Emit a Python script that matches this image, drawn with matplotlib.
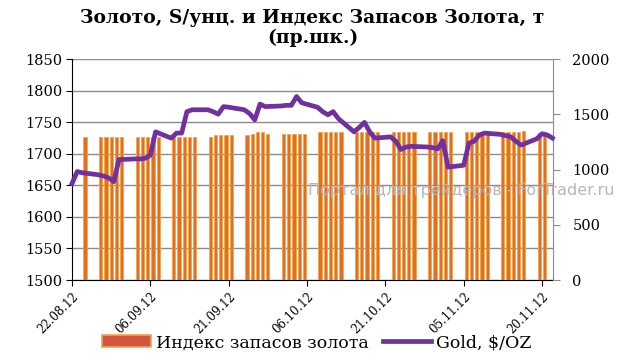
import matplotlib
matplotlib.use("Agg")
import matplotlib.pyplot as plt
import matplotlib.dates as mdates
from matplotlib.patches import Patch
from matplotlib.lines import Line2D
import pandas as pd

plt.rcParams['font.family'] = ['DejaVu Serif']

# gold price, $/oz (left axis)
gold_dates = [
    '2012-08-22', '2012-08-23', '2012-08-24', '2012-08-27', '2012-08-28', '2012-08-29',
    '2012-08-30', '2012-08-31', '2012-09-03', '2012-09-04', '2012-09-05', '2012-09-06',
    '2012-09-07', '2012-09-10', '2012-09-11', '2012-09-12', '2012-09-13', '2012-09-14',
    '2012-09-17', '2012-09-18', '2012-09-19', '2012-09-20', '2012-09-21', '2012-09-24',
    '2012-09-25', '2012-09-26', '2012-09-27', '2012-09-28', '2012-10-01', '2012-10-02',
    '2012-10-03', '2012-10-04', '2012-10-05', '2012-10-08', '2012-10-09', '2012-10-10',
    '2012-10-11', '2012-10-12', '2012-10-15', '2012-10-16', '2012-10-17', '2012-10-18',
    '2012-10-19', '2012-10-22', '2012-10-23', '2012-10-24', '2012-10-25', '2012-10-26',
    '2012-10-29', '2012-10-30', '2012-10-31', '2012-11-01', '2012-11-02', '2012-11-05',
    '2012-11-06', '2012-11-07', '2012-11-08', '2012-11-09', '2012-11-12', '2012-11-13',
    '2012-11-14', '2012-11-15', '2012-11-16', '2012-11-19', '2012-11-20', '2012-11-21',
    '2012-11-22']
gold_price = [
    1653, 1672, 1670, 1667, 1665, 1662,
    1656, 1691, 1692, 1692, 1693, 1698,
    1735, 1725, 1733, 1733, 1767, 1770,
    1770, 1767, 1763, 1775, 1774, 1770,
    1764, 1754, 1779, 1775, 1776, 1777,
    1777, 1791, 1781, 1774, 1767, 1762,
    1767, 1756, 1735, 1742, 1750, 1735,
    1725, 1727, 1720, 1707, 1711, 1712,
    1711, 1710, 1708, 1721, 1679, 1682,
    1717, 1720, 1730, 1733, 1731, 1729,
    1727, 1720, 1714, 1724, 1732, 1730,
    1725]

# gold stocks index, t (right axis)
stock_dates = [
    '2012-08-24', '2012-08-27', '2012-08-28', '2012-08-29', '2012-08-30', '2012-08-31',
    '2012-09-03', '2012-09-04', '2012-09-05', '2012-09-06', '2012-09-07', '2012-09-10',
    '2012-09-11', '2012-09-12', '2012-09-13', '2012-09-14', '2012-09-17', '2012-09-18',
    '2012-09-19', '2012-09-20', '2012-09-21', '2012-09-24', '2012-09-25', '2012-09-26',
    '2012-09-27', '2012-09-28', '2012-10-01', '2012-10-02', '2012-10-03', '2012-10-04',
    '2012-10-05', '2012-10-08', '2012-10-09', '2012-10-10', '2012-10-11', '2012-10-12',
    '2012-10-15', '2012-10-16', '2012-10-17', '2012-10-18', '2012-10-19', '2012-10-22',
    '2012-10-23', '2012-10-24', '2012-10-25', '2012-10-26', '2012-10-29', '2012-10-30',
    '2012-10-31', '2012-11-01', '2012-11-02', '2012-11-05', '2012-11-06', '2012-11-07',
    '2012-11-08', '2012-11-09', '2012-11-12', '2012-11-13', '2012-11-14', '2012-11-15',
    '2012-11-16', '2012-11-19', '2012-11-20']
stock_index = [
    1297, 1297, 1297, 1297, 1297, 1297,
    1296, 1296, 1296, 1295, 1295, 1297,
    1297, 1297, 1297, 1297, 1300, 1310,
    1310, 1310, 1310, 1312, 1322, 1340,
    1340, 1325, 1325, 1325, 1325, 1325,
    1325, 1340, 1340, 1340, 1340, 1340,
    1340, 1340, 1340, 1340, 1340, 1340,
    1340, 1340, 1340, 1340, 1340, 1340,
    1340, 1340, 1340, 1340, 1340, 1340,
    1340, 1340, 1340, 1340, 1340, 1340,
    1352, 1335, 1335]

tick_dates = ['2012-08-22', '2012-09-06', '2012-09-21', '2012-10-06',
              '2012-10-21', '2012-11-05', '2012-11-20']

gd = pd.to_datetime(gold_dates)
sd = pd.to_datetime(stock_dates) + pd.Timedelta(hours=12)
td = pd.to_datetime(tick_dates)

fig = plt.figure(figsize=(6.25, 3.59), dpi=100)
ax = fig.add_axes([0.1152, 0.22, 0.7696, 0.6148])

# left scale, gridlines
ax.set_ylim(1500, 1850)
ax.set_yticks(range(1500, 1851, 50))
ax.grid(axis='y', color='#8c8c8c', lw=1)
ax.set_axisbelow(True)
for s in ['top', 'right']:
    ax.spines[s].set_visible(False)
ax.spines['left'].set_color('black')
ax.spines['bottom'].set_color('black')
ax.tick_params(axis='y', direction='out', length=4, labelsize=10.5, pad=3)
ax.tick_params(axis='x', direction='out', length=4)

# bars on right scale
axb = ax.twinx()
axb.bar(sd, stock_index, width=0.62, color='#E2701C', edgecolor='#F2A34E', lw=0.6, zorder=2)
axb.set_ylim(0, 2000)
axb.set_yticks(range(0, 2001, 500))
axb.tick_params(axis='y', direction='out', length=5, color='#8c8c8c', labelsize=10.5, pad=9)
for s in ['top', 'left', 'bottom']:
    axb.spines[s].set_visible(False)
axb.spines['right'].set_color('#8c8c8c')

# gold line on left scale, drawn over bars
axl = ax.twinx()
axl.plot(gd, gold_price, color='#7030A0', lw=3.4, solid_joinstyle='round', clip_on=False)
axl.set_ylim(1500, 1850)
axl.set_yticks([])
for s in axl.spines.values():
    s.set_visible(False)

x0 = td[0]
ax.set_xlim(x0, x0 + pd.Timedelta(days=92.1))
ax.set_xticks(td)
ax.xaxis.set_major_formatter(mdates.DateFormatter('%d.%m.%y'))
for lab in ax.get_xticklabels():
    lab.set_rotation(45)
    lab.set_ha('right')
    lab.set_va('top')
    lab.set_rotation_mode('anchor')
    lab.set_fontsize(8.5)

fig.suptitle('Золото, S/унц. и Индекс Запасов Золота, т\n(пр.шк.)',
             x=0.5, y=0.975, fontsize=13.5, fontweight='bold', linespacing=1.1)

fig.text(0.493, 0.468, 'Портал для трейдеров - ForTrader.ru', color='#b8b8b8',
         fontsize=11.5, family=['DejaVu Sans'], va='center', ha='left')

handles = [Patch(facecolor='#D2553F', edgecolor='#F2A050', lw=1.2),
           Line2D([], [], color='#7030A0', lw=3.4)]
fig.legend(handles, ['Индекс запасов золота', 'Gold, $/OZ'],
           loc='center', bbox_to_anchor=(0.507, 0.045), ncol=2, frameon=False,
           fontsize=12.5, handlelength=2.8, handletextpad=0.3, columnspacing=0.8,
           borderaxespad=0)

fig.savefig('out.png', dpi=100)
